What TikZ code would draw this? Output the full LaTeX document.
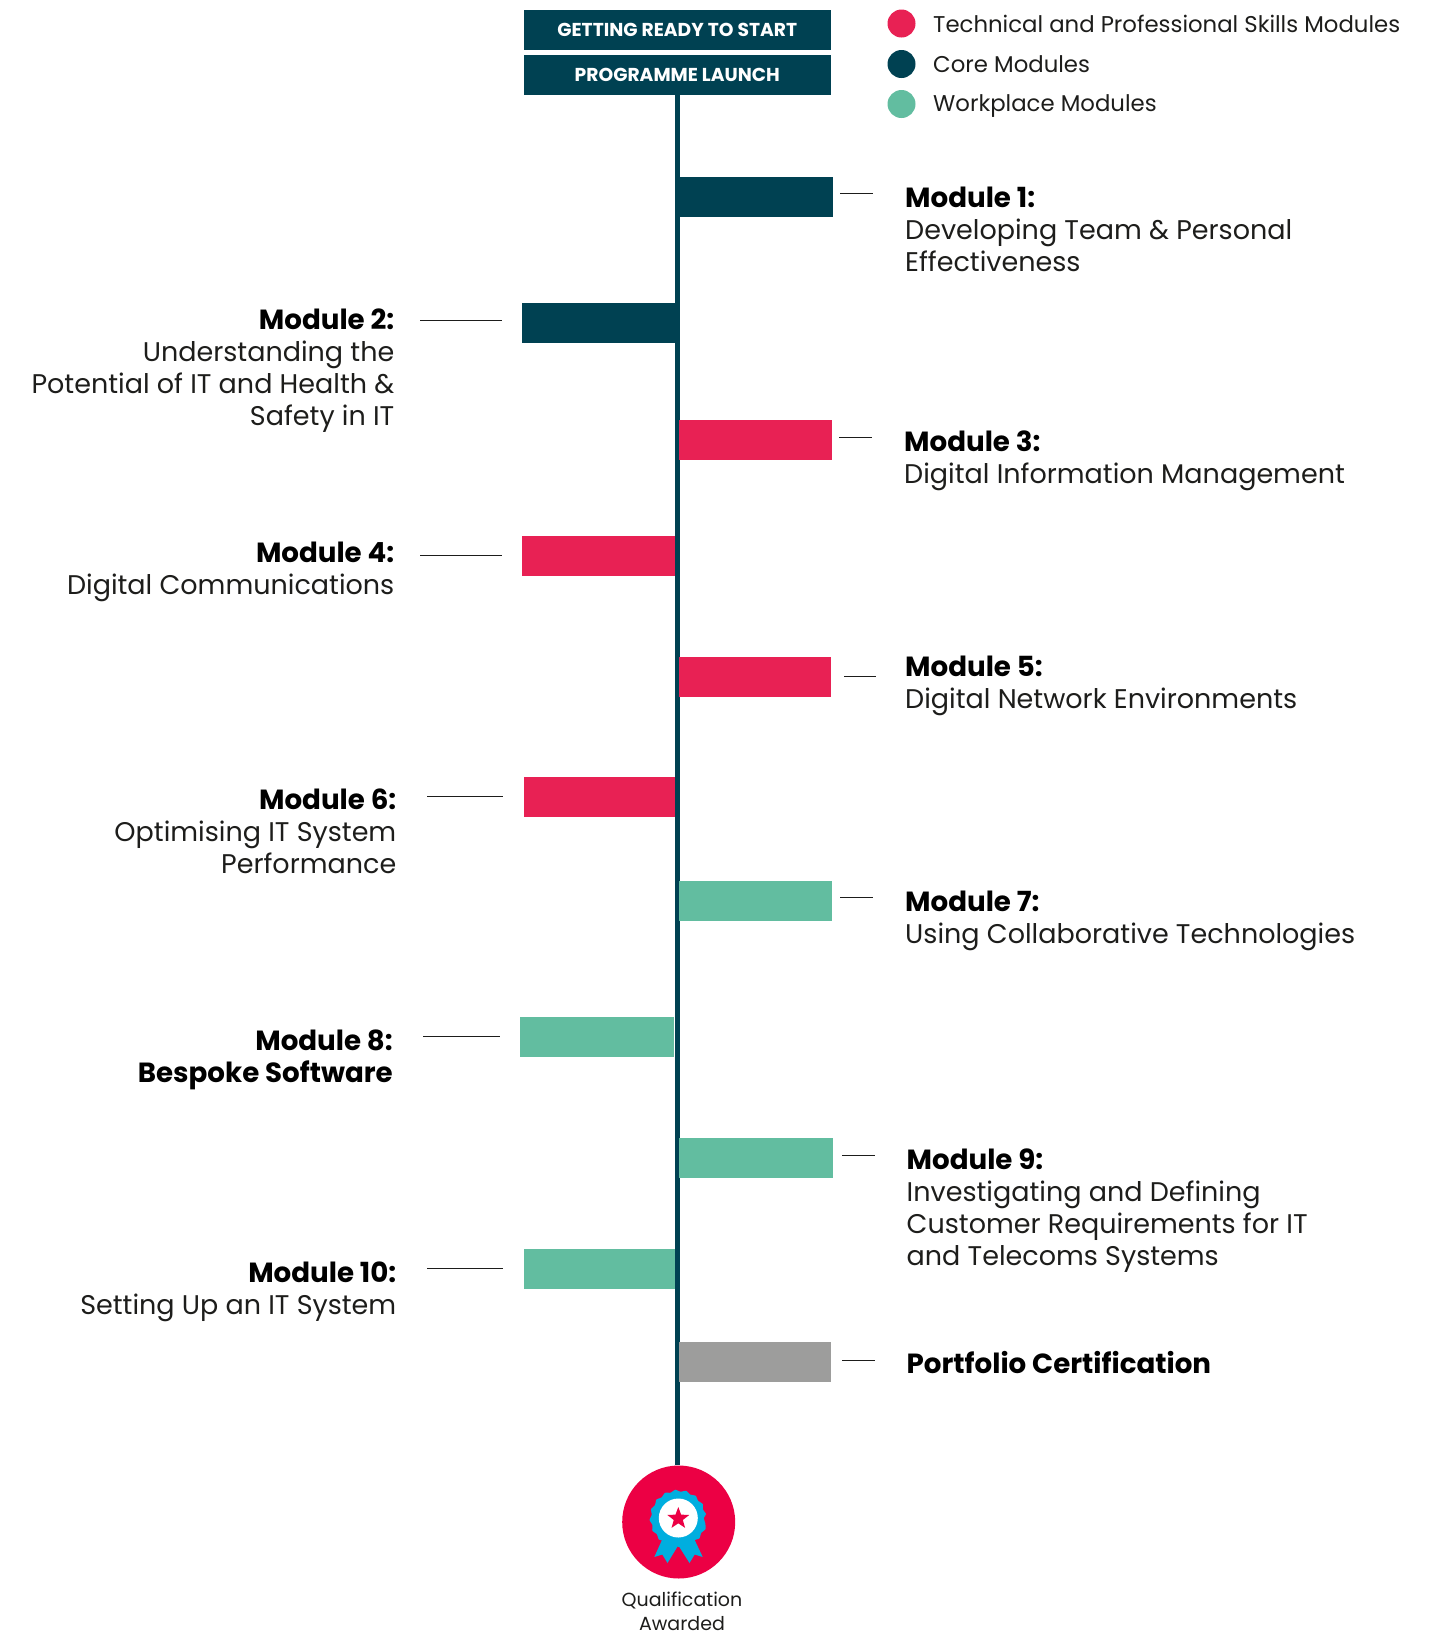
\documentclass[tikz,border=0pt]{standalone}
\usepackage{fontspec}
\setmainfont{Poppins}
\usetikzlibrary{shapes.geometric}
\definecolor{core}{HTML}{004152}
\definecolor{tech}{HTML}{E82154}
\definecolor{work}{HTML}{62BDA0}
\definecolor{grey}{HTML}{9D9D9C}
\definecolor{badge}{HTML}{EC0044}
\definecolor{rosette}{HTML}{00AEDF}
\definecolor{ink}{HTML}{1D1D1B}
\newcommand{\mbold}[1]{{\fontsize{27.7}{31.8}\selectfont\bfseries\color{black} #1}}
\tikzset{
 x=1pt,y=-1pt,
 bar/.style={minimum width=#1,minimum height=40pt,inner sep=0pt,outer sep=0pt,anchor=north west},
 head/.style={bar=307.5pt,fill=core,text=white,anchor=north west,font=\fontsize{18.7}{20}\selectfont\bfseries},
 tick/.style={draw=ink,line width=1pt},
 rlab/.style={anchor=base west,align=left,inner sep=0pt,text=ink,font=\fontsize{27}{31.8}\selectfont},
 llab/.style={anchor=base east,align=right,inner sep=0pt,text=ink,font=\fontsize{27}{31.8}\selectfont},
 legdot/.style={circle,minimum size=28pt,inner sep=0pt},
 legtext/.style={anchor=base west,inner sep=0pt,text=ink,font=\fontsize{22.8}{28}\selectfont},
}
\begin{document}
\begin{tikzpicture}
\useasboundingbox (0,0) rectangle (1433,1634);
\node[head] (ready) at (523.5,10) {GETTING READY TO START};
\node[head] (launch) at (523.5,55) {PROGRAMME LAUNCH};
\node[circle,fill=badge,minimum size=113pt,inner sep=0pt] (award) at (678.7,1522) {};
\draw[core,line width=5.5pt] (launch.south) -- (launch.south |- award.north);
% bars
\node[bar=153.5pt,fill=core] (b1) at (679,177) {};
\node[bar=157.5pt,fill=core] (b2) at (521.5,303) {};
\node[bar=153pt,fill=tech] (b3) at (679,420) {};
\node[bar=153.5pt,fill=tech] (b4) at (521.5,536) {};
\node[bar=152pt,fill=tech] (b5) at (679,657) {};
\node[bar=151.5pt,fill=tech] (b6) at (523.5,777) {};
\node[bar=153pt,fill=work] (b7) at (679,881) {};
\node[bar=154.5pt,fill=work] (b8) at (519.5,1017) {};
\node[bar=154pt,fill=work] (b9) at (679,1138) {};
\node[bar=151.5pt,fill=work] (b10) at (523.5,1249) {};
\node[bar=152pt,fill=grey] (b11) at (679,1342) {};
% ticks
\foreach \n/\a/\b/\y in {1/840/873/193.5,2/420/502/320,3/839/872/437.5,4/420/502/555.5,5/844/876/676,6/427/503/796,7/840/873/897,8/423/500/1036.5,9/842/875/1155,10/427/503/1268,11/842/875/1360}{
 \coordinate (t\n a) at (\a,\y);
 \coordinate (t\n b) at (\b,\y);
 \draw[tick] (t\n a) -- (t\n b);
}
% labels
\node[rlab] (l1) at (905,271) {\mbold{Module 1:}\\Developing Team \& Personal\\Effectiveness};
\node[llab] (l2) at (394.5,425) {\mbold{Module 2:}\\Understanding the\\Potential of IT and Health \&\\Safety in IT};
\node[rlab] (l3) at (904,483) {\mbold{Module 3:}\\Digital Information Management};
\node[llab] (l4) at (394.5,594.5) {\mbold{Module 4:}\\Digital Communications};
\node[rlab] (l5) at (905,708) {\mbold{Module 5:}\\Digital Network Environments};
\node[llab] (l6) at (396.5,873) {\mbold{Module 6:}\\Optimising IT System\\Performance};
\node[rlab] (l7) at (905,943) {\mbold{Module 7:}\\Using Collaborative Technologies};
\node[llab] (l8) at (393,1082) {\mbold{Module 8:}\\\mbold{Bespoke Software}};
\node[rlab] (l9) at (906.5,1265) {\mbold{Module 9:}\\Investigating and Defining\\Customer Requirements for IT\\and Telecoms Systems};
\node[llab] (l10) at (396.5,1314) {\mbold{Module 10:}\\Setting Up an IT System};
\node[rlab] (l11) at (906.5,1373) {\mbold{Portfolio Certification}};
% legend
\node[legdot,fill=tech] (d1) at (901.5,23.5) {};
\node[legdot,fill=core] (d2) at (901.5,64) {};
\node[legdot,fill=work] (d3) at (901.5,104) {};
\node[legtext] (k1) at (933,32) {Technical and Professional Skills Modules};
\node[legtext] (k2) at (933,72) {Core Modules};
\node[legtext] (k3) at (933,111) {Workplace Modules};
% rosette
\fill[rosette] (663.3,1537) -- (654.3,1557) -- (662.3,1554.5) -- (667.5,1563) -- (678.3,1545.3) -- (689.5,1563) -- (694.7,1554.5) -- (702.7,1557) -- (693.3,1537) -- cycle;
\fill[rosette] plot[smooth cycle,samples=33,domain=0:352,tension=0.3] ({678.3+(25.5+2*mod(\x/11.25,2))*cos(\x)},{1518+(25.5+2*mod(\x/11.25,2))*sin(\x)});
\fill[white] (678.3,1518) circle (19.5);
\node[star,star points=5,star point ratio=2.4,fill=badge,minimum size=23pt,inner sep=0pt] (starmark) at (678.3,1518.5) {};
\node[anchor=base,align=center,inner sep=0pt,text=ink,font=\fontsize{19}{24.5}\selectfont] (q) at (682,1630.5) {Qualification\\Awarded};
\end{tikzpicture}
\end{document}
